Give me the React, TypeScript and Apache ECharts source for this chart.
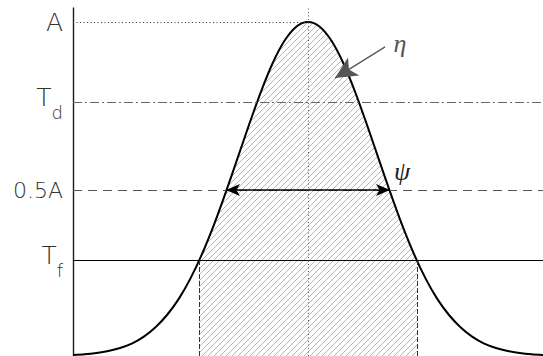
import React, { useEffect, useRef } from 'react';
import * as echarts from 'echarts';

// x positions (arbitrary units, peak at 0) and curve heights (A = 1)
const CURVE_X = [
  -5, -4.75, -4.5, -4.25, -4, -3.75, -3.5, -3.25, -3, -2.75, -2.5, -2.25, -2, -1.75, -1.5, -1.25, -1, -0.75, -0.5, -0.25,
  0, 0.25, 0.5, 0.75, 1, 1.25, 1.5, 1.75, 2, 2.25, 2.5, 2.75, 3, 3.25, 3.5, 3.75, 4, 4.25, 4.5, 4.75, 5,
];
const CURVE_Y = [
  0.009, 0.011, 0.015, 0.021, 0.03, 0.043, 0.063, 0.091, 0.128, 0.176, 0.237, 0.311, 0.397, 0.493, 0.594, 0.696, 0.793,
  0.878, 0.944, 0.986, 1.0, 0.986, 0.944, 0.878, 0.793, 0.696, 0.594, 0.493, 0.397, 0.311, 0.237, 0.176, 0.128, 0.091,
  0.063, 0.043, 0.03, 0.021, 0.015, 0.011, 0.009,
];

// reference levels on the y axis
const LEVEL_VALUES = [0.29, 0.5, 0.76, 1];
const LEVEL_MAIN = ['T', '0.5A', 'T', 'A'];
const LEVEL_SUB = ['f', '', 'd', ''];
const LEVEL_STYLE = ['b', 'p', 'b', 'a'];

const TF_CROSS = [-2.32, 2.32];
const HALF_CROSS = [-1.745, 1.745];
const PEAK_X = 0;
const ETA_FROM = [1.64, 0.926];
const ETA_TO = [0.574, 0.833];

const X_MIN = -5;
const X_MAX = 5;
const Y_MIN = 0.006;
const Y_MAX = 1.0417;

const TF = LEVEL_VALUES[0];
const HALF = LEVEL_VALUES[1];
const TD = LEVEL_VALUES[2];
const AMP = LEVEL_VALUES[3];

function makePattern() {
  const c = document.createElement('canvas');
  c.width = 6;
  c.height = 6;
  const ctx = c.getContext('2d');
  if (ctx) {
    ctx.fillStyle = '#b6b6b6';
    for (let i = 0; i < 6; i++) ctx.fillRect(i, 5 - i, 1, 1);
  }
  return c;
}

export default function App() {
  const ref = useRef<HTMLDivElement>(null);
  useEffect(() => {
    if (!ref.current) return;
    const chart = echarts.init(ref.current, null, { renderer: 'svg' });
    const curve = CURVE_X.map((x, i) => [x, CURVE_Y[i]]);
    const hatch = [
      [TF_CROSS[0], TF],
      ...curve.filter((p) => p[0] > TF_CROSS[0] && p[0] < TF_CROSS[1]),
      [TF_CROSS[1], TF],
    ];
    const font = 'DejaVu Sans';
    const base = { fontFamily: font, fontWeight: 200, color: '#333' };
    const option: any = {
      animation: false,
      grid: { left: 73, right: 0, top: 8, bottom: 0, outerBoundsMode: 'none' },
      xAxis: { type: 'value', min: X_MIN, max: X_MAX, show: false },
      yAxis: {
        type: 'value',
        min: Y_MIN,
        max: Y_MAX,
        splitLine: { show: false },
        axisTick: { show: false },
        axisLine: { show: true, onZero: false, lineStyle: { color: '#1a1a1a', width: 1.4 } },
        axisLabel: {
          customValues: LEVEL_VALUES,
          margin: 10,
          color: '#333',
          formatter: (value: number) => {
            const i = LEVEL_VALUES.findIndex((v) => Math.abs(v - value) < 1e-9);
            if (i < 0) return '';
            const st = LEVEL_STYLE[i];
            return LEVEL_SUB[i] ? `{${st}|${LEVEL_MAIN[i]}}{s|${LEVEL_SUB[i]}}` : `{${st}|${LEVEL_MAIN[i]}}`;
          },
          rich: {
            a: { ...base, fontSize: 25, lineHeight: 26 },
            p: { ...base, fontSize: 22, lineHeight: 24 },
            b: { ...base, fontSize: 25, lineHeight: 26, padding: [0, 0, 10, 0] },
            s: { ...base, fontSize: 18, lineHeight: 18, padding: [20, 0, 0, 0] },
          },
        },
      },
      graphic: [
        {
          type: 'text',
          x: 400,
          y: 43,
          style: {
            text: 'η',
            fill: '#555',
            font: 'italic 26px "Liberation Serif"',
            align: 'center',
            verticalAlign: 'middle',
          },
        },
        {
          type: 'text',
          x: 402,
          y: 171,
          style: {
            text: 'ψ',
            fill: '#222',
            font: 'italic 26px "Liberation Serif"',
            align: 'center',
            verticalAlign: 'middle',
          },
        },
      ],
      series: [
        {
          type: 'line',
          data: hatch,
          smooth: 0.3,
          smoothMonotone: 'x',
          symbol: 'none',
          silent: true,
          lineStyle: { width: 0, opacity: 0 },
          areaStyle: { color: { image: makePattern(), repeat: 'repeat' }, opacity: 1, origin: 'start' },
          z: 1,
        },
        {
          type: 'line',
          data: curve,
          smooth: 0.3,
          symbol: 'none',
          silent: true,
          lineStyle: { color: '#000', width: 2 },
          z: 3,
          markLine: {
            silent: true,
            symbol: ['none', 'none'],
            label: { show: false },
            emphasis: { disabled: true },
            data: [
              { yAxis: TF, lineStyle: { color: '#000', width: 1, type: 'solid' } },
              { yAxis: HALF, lineStyle: { color: '#555', width: 1.2, type: [9, 6] } },
              { yAxis: TD, lineStyle: { color: '#666', width: 1.2, type: [9, 3, 2, 3] } },
              [
                { coord: [X_MIN, AMP], lineStyle: { color: '#333', width: 1, type: [1, 2.5] } },
                { coord: [PEAK_X, AMP] },
              ],
              [
                { coord: [PEAK_X, Y_MIN], lineStyle: { color: '#555', width: 1, type: [1, 2.5] } },
                { coord: [PEAK_X, Y_MAX] },
              ],
              [
                { coord: [TF_CROSS[0], Y_MIN], lineStyle: { color: '#333', width: 1, type: [5, 2] } },
                { coord: [TF_CROSS[0], TF] },
              ],
              [
                { coord: [TF_CROSS[1], Y_MIN], lineStyle: { color: '#333', width: 1, type: [5, 2] } },
                { coord: [TF_CROSS[1], TF] },
              ],
              [
                {
                  coord: [HALF_CROSS[0], HALF],
                  symbol: 'arrow',
                  symbolSize: [9, 14],
                  lineStyle: { color: '#000', width: 1.5, type: 'solid' },
                },
                { coord: [HALF_CROSS[1], HALF], symbol: 'arrow', symbolSize: [9, 14] },
              ],
              [
                { coord: ETA_FROM, symbol: 'none', lineStyle: { color: '#555', width: 1.2, type: 'solid' } },
                { coord: ETA_TO, symbol: 'arrow', symbolSize: [16, 22] },
              ],
            ],
          },
        },
      ],
    };
    chart.setOption(option);
    return () => chart.dispose();
  }, []);
  return <div ref={ref} style={{ position: 'absolute', left: 0, top: 0, width: 543, height: 356 }} />;
}
